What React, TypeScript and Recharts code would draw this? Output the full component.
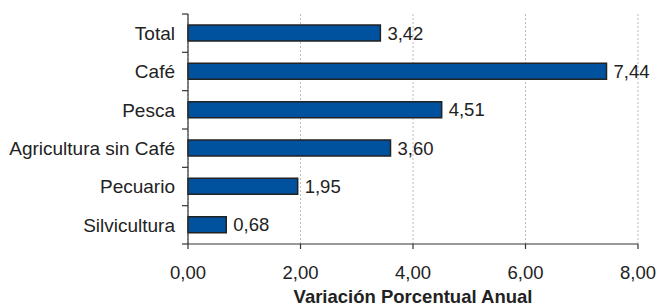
import React from "react";
import {
  BarChart,
  Bar,
  XAxis,
  YAxis,
  CartesianGrid,
  LabelList,
} from "recharts";

const categories = [
  "Total",
  "Café",
  "Pesca",
  "Agricultura sin Café",
  "Pecuario",
  "Silvicultura",
];
const values = [3.42, 7.44, 4.51, 3.6, 1.95, 0.68];
const xTicks = [0, 2, 4, 6, 8];
const axisTitle = "Variación Porcentual Anual";

const data = categories.map((c, i) => ({ name: c, value: values[i] }));

const fmt = (v: number) => v.toFixed(2).replace(".", ",");
const FONT = "'Liberation Sans', Arial, Helvetica, sans-serif";

const TICK_SIZE = 6;
const TICK_MARGIN = 7;

const CategoryTick = (props: any) => {
  const { x, y, payload, index, visibleTicksCount } = props;
  const axisX = x + TICK_SIZE + TICK_MARGIN;
  const half = payload && payload.offset ? payload.offset : 0;
  const top = payload.coordinate - half;
  const bottom = payload.coordinate + half;
  const last = index === (visibleTicksCount ?? categories.length) - 1;
  return (
    <g>
      <line x1={axisX - TICK_SIZE} x2={axisX} y1={top} y2={top} stroke="#333" strokeWidth={1.2} />
      {last && (
        <line x1={axisX - TICK_SIZE} x2={axisX} y1={bottom} y2={bottom} stroke="#333" strokeWidth={1.2} />
      )}
      <text
        x={x}
        y={y}
        dy="0.36em"
        textAnchor="end"
        fontSize={19}
        fontFamily={FONT}
        fill="#222"
      >
        {payload.value}
      </text>
    </g>
  );
};

export default function App() {
  return (
    <div style={{ position: "absolute", left: 0, top: 0, background: "#fff" }}>
      <BarChart
        width={659}
        height={306}
        data={data}
        layout="vertical"
        margin={{ top: 14, right: 21, left: 0, bottom: 0 }}
        barSize={16}
      >
        <CartesianGrid
          horizontal={false}
          vertical={true}
          stroke="#bbb"
          strokeDasharray="2 2"
        />
        <XAxis
          type="number"
          domain={[0, 8]}
          ticks={xTicks}
          tickFormatter={fmt}
          axisLine={{ stroke: "#333", strokeWidth: 1.2 }}
          tickLine={{ stroke: "#333", strokeWidth: 1.2 }}
          tickSize={5}
          tickMargin={17}
          height={62}
          tick={{ fontSize: 18.5, fontFamily: FONT, fill: "#222" }}
          label={{
            value: axisTitle,
            position: "insideBottom",
            offset: 3,
            style: { fontSize: 18.5, fontWeight: "bold", fontFamily: FONT, fill: "#222" },
          }}
        />
        <YAxis
          type="category"
          dataKey="name"
          width={188}
          axisLine={{ stroke: "#333", strokeWidth: 1.2 }}
          tickLine={false}
          tickSize={TICK_SIZE}
          tickMargin={TICK_MARGIN}
          tick={<CategoryTick />}
          interval={0}
        />
        <Bar
          dataKey="value"
          fill="#00519E"
          stroke="#222"
          strokeWidth={1.5}
          isAnimationActive={false}
        >
          <LabelList
            dataKey="value"
            position="right"
            offset={7}
            formatter={(v: any) => fmt(Number(v))}
            style={{ fontSize: 18.5, fontFamily: FONT, fill: "#222" }}
          />
        </Bar>
      </BarChart>
    </div>
  );
}
